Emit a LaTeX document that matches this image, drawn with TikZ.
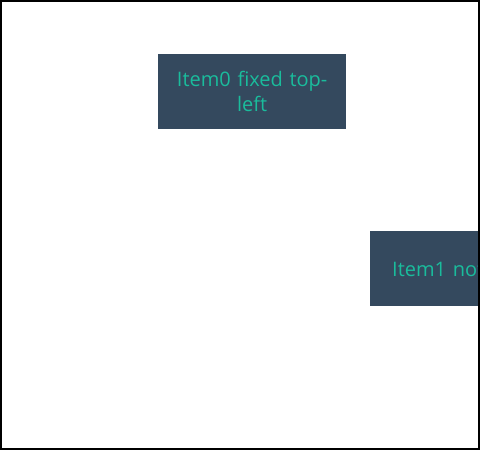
\documentclass[tikz,border=0pt]{standalone}
\usepackage{fontspec}
\setmainfont{Open Sans}
\definecolor{boxbg}{HTML}{34495E}
\definecolor{boxfg}{HTML}{1ABC9C}
\begin{document}
\begin{tikzpicture}[x=1pt,y=-1pt,
  itembox/.style={fill=boxbg, text=boxfg, inner ysep=0pt, minimum height=74.5pt,
    font=\fontsize{20}{25}\selectfont, anchor=north west}]
\useasboundingbox (0,0) rectangle (480,450);
\begin{scope}
\clip (0,0) rectangle (480,450);
\node[itembox, inner xsep=10pt, text width=168pt, align=center] (item0) at (158,54) {Item0 fixed top-\\left};
\node[itembox, inner xsep=22pt, text width=200pt, align=left] (item1) at (370,231) {Item1 not fixed};
\end{scope}
\draw[line width=2pt] (1,1) rectangle (479,449);
\end{tikzpicture}
\end{document}
